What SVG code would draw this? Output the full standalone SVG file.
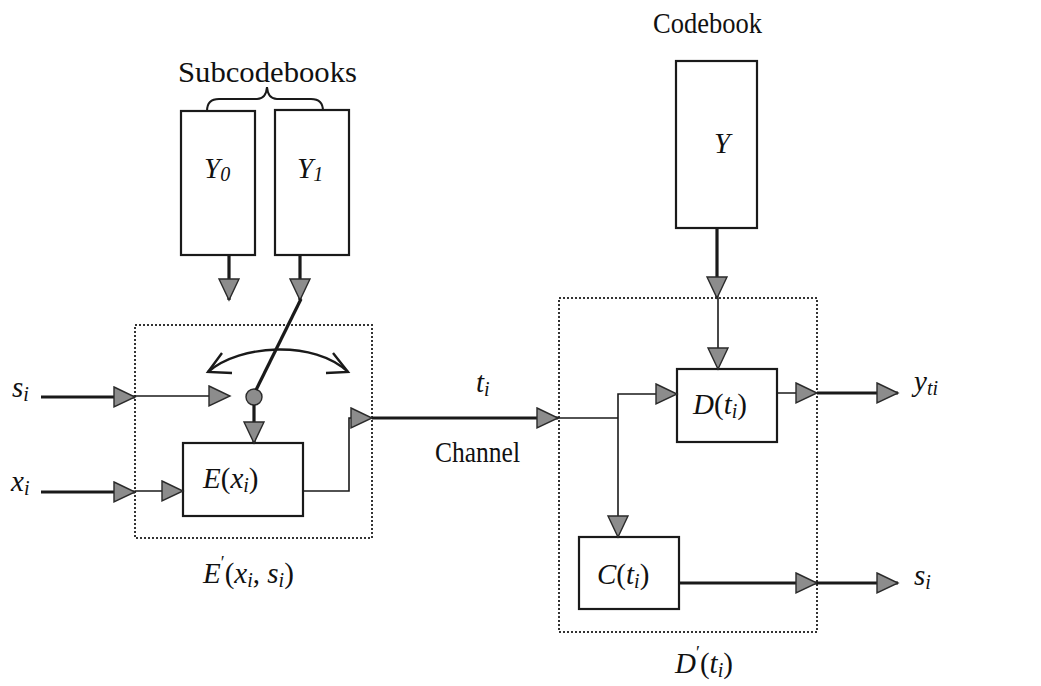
<svg xmlns="http://www.w3.org/2000/svg" width="1041" height="686" viewBox="0 0 1041 686">
  <style>
    .box { fill: #ffffff; stroke: #1a1a1a; stroke-width: 2.2; }
    .frame { fill: none; stroke: #333333; stroke-width: 2; stroke-dasharray: 2 2; }
    .thin { fill: none; stroke: #1a1a1a; stroke-width: 1.6; }
    .thick { fill: none; stroke: #1a1a1a; stroke-width: 3.2; }
    .arr { marker-end: url(#tri); }
    .lbl { font-size: 29px; fill: #111111; }
    .it { font-style: italic; }
    .sub { font-size: 20px; font-style: italic; }
  </style>
  <defs>
    <marker id="tri" markerUnits="userSpaceOnUse" markerWidth="24" markerHeight="24" viewBox="0 0 24 24" refX="22" refY="11" orient="auto">
      <path d="M1,1 L22,11 L1,21 Z" fill="#8c8c8c" stroke="#2a2a2a" stroke-width="1.4"/>
    </marker>
  </defs>

  <g font-family="'Liberation Serif', 'DejaVu Serif', serif">
  <!-- sub-codebooks -->
  <g id="subcodebooks-label">
    <text class="lbl" x="178" y="82" textLength="179" lengthAdjust="spacingAndGlyphs">Subcodebooks</text>
    <path d="M207,111 Q207,99 219,99 L257,99 Q266,99 267,87 Q268,99 277,99 L311,99 Q323,99 323,111" fill="none" stroke="#1a1a1a" stroke-width="2"/>
  </g>
  <g id="y0">
    <rect class="box" x="181" y="111" width="74" height="144"/>
    <text class="lbl" x="204" y="178"><tspan class="it">Y</tspan><tspan class="sub" dy="3">0</tspan></text>
  </g>
  <g id="y1">
    <rect class="box" x="275" y="110" width="74" height="145"/>
    <text class="lbl" x="297" y="178"><tspan class="it">Y</tspan><tspan class="sub" dy="3">1</tspan></text>
  </g>

  <!-- main codebook -->
  <g id="codebook">
    <text class="lbl" x="653" y="33" textLength="109" lengthAdjust="spacingAndGlyphs">Codebook</text>
    <rect class="box" x="676" y="61" width="81" height="167"/>
    <text class="lbl it" x="714" y="153">Y</text>
  </g>

  <!-- encoder -->
  <g id="encoder">
    <rect class="frame" x="135" y="325" width="237" height="213"/>
    <text class="lbl" x="203" y="583"><tspan class="it">E</tspan><tspan font-size="18" dy="-14">′</tspan><tspan dy="14">(</tspan><tspan class="it">x</tspan><tspan class="sub" dy="4">i</tspan><tspan dy="-4">, </tspan><tspan class="it">s</tspan><tspan class="sub" dy="4">i</tspan><tspan dy="-4">)</tspan></text>
  </g>
  <g id="e-block">
    <rect class="box" x="183" y="443" width="120" height="73"/>
    <text class="lbl" x="203" y="488"><tspan class="it">E</tspan>(<tspan class="it">x</tspan><tspan class="sub" dy="4">i</tspan><tspan dy="-4">)</tspan></text>
  </g>
  <g id="switch">
    <circle cx="254" cy="397" r="8" fill="#8c8c8c" stroke="#2a2a2a" stroke-width="1.4"/>
    <path d="M208,372 C240,344 315,340 348,372" fill="none" stroke="#1a1a1a" stroke-width="2.4"/>
    <path d="M222,353 L208,372 L232,373" fill="none" stroke="#1a1a1a" stroke-width="2.4"/>
    <path d="M333,353 L348,372 L326,373" fill="none" stroke="#1a1a1a" stroke-width="2.4"/>
  </g>

  <!-- decoder -->
  <g id="decoder">
    <rect class="frame" x="559" y="298" width="258" height="334"/>
    <text class="lbl" x="675" y="673"><tspan class="it">D</tspan><tspan font-size="18" dy="-14">′</tspan><tspan dy="14">(</tspan><tspan class="it">t</tspan><tspan class="sub" dy="4">i</tspan><tspan dy="-4">)</tspan></text>
  </g>
  <g id="d-block">
    <rect class="box" x="677" y="369" width="100" height="73"/>
    <text class="lbl" x="693" y="414"><tspan class="it">D</tspan>(<tspan class="it">t</tspan><tspan class="sub" dy="4">i</tspan><tspan dy="-4">)</tspan></text>
  </g>
  <g id="c-block">
    <rect class="box" x="579" y="537" width="100" height="72"/>
    <text class="lbl" x="597" y="584"><tspan class="it">C</tspan>(<tspan class="it">t</tspan><tspan class="sub" dy="4">i</tspan><tspan dy="-4">)</tspan></text>
  </g>

  <!-- signal labels -->
  <g id="signal-labels">
    <text class="lbl" x="12" y="397"><tspan class="it">s</tspan><tspan class="sub" dy="4">i</tspan></text>
    <text class="lbl" x="11" y="491"><tspan class="it">x</tspan><tspan class="sub" dy="4">i</tspan></text>
    <text class="lbl" x="476" y="392"><tspan class="it">t</tspan><tspan class="sub" dy="4">i</tspan></text>
    <text class="lbl" x="435" y="462" textLength="85" lengthAdjust="spacingAndGlyphs">Channel</text>
    <text class="lbl" x="914" y="391"><tspan class="it">y</tspan><tspan class="sub" dy="4">ti</tspan></text>
    <text class="lbl" x="914" y="585"><tspan class="it">s</tspan><tspan class="sub" dy="4">i</tspan></text>
  </g>
  </g>

  <!-- connectors -->
  <g id="connectors">
    <path class="thick arr" d="M41,397 L135,397"/>
    <path class="thin arr" d="M135,396 L230,396"/>
    <path class="thick arr" d="M41,492 L135,492"/>
    <path class="thin arr" d="M135,491 L183,491"/>
    <path class="thick arr" d="M229,255 L229,300"/>
    <path class="thick arr" d="M300,255 L300,300"/>
    <path class="thick" d="M301,299 L256,390"/>
    <path class="thick arr" d="M254,405 L254,443"/>
    <path class="thin arr" d="M303,491 L349,491 L349,418 L372,418"/>
    <path class="thick arr" d="M372,418 L558,418"/>
    <path class="thin" d="M558,418 L618,418"/>
    <path class="thin arr" d="M618,418 L618,394 L677,394"/>
    <path class="thin arr" d="M618,418 L618,537"/>
    <path class="thick arr" d="M717,228 L717,298"/>
    <path class="thin arr" d="M718,298 L718,369"/>
    <path class="thin arr" d="M777,393 L817,393"/>
    <path class="thick arr" d="M817,393 L898,393"/>
    <path class="thick arr" d="M679,583 L817,583"/>
    <path class="thick arr" d="M817,583 L898,583"/>
  </g>
</svg>
